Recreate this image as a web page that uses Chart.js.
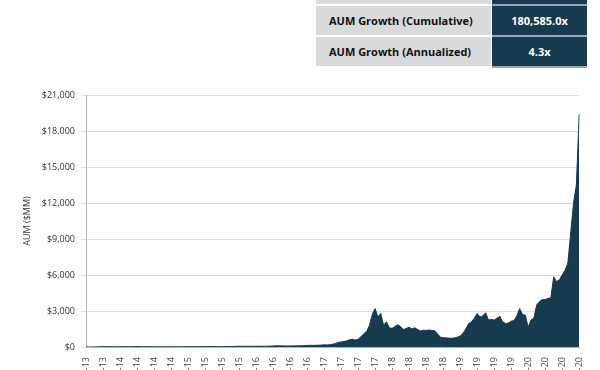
<!DOCTYPE html>
<html>
<head>
<meta charset="utf-8">
<script src="https://cdn.jsdelivr.net/npm/chart.js@4.4.1/dist/chart.umd.min.js"></script>
<style>
	body { margin: 0; background: #fff; font-family: 'Open Sans', sans-serif; }
	#wrap { position: relative; width: 600px; height: 370px; overflow: hidden; }
	#aumChart { position: absolute; left: 0; top: 0; }
	#title { position: absolute; left: 25px; top: -18px; font-size: 14px; font-weight: 700; color: #e2e2e2; white-space: nowrap; }
	#stats { position: absolute; left: 316px; top: -25px; border-collapse: collapse; font-size: 11px; font-weight: 700; }
	#stats td { height: 29px; padding: 0; border-bottom: 2px solid #fff; }
	#stats td.name { width: 162px; background: #d9dadc; color: #111; padding-left: 13px; }
	#stats td.val { width: 95px; background: #163a4e; color: #fff; text-align: center; border-bottom-color: #9aa5ad; border-left: 1px solid #fff; }
</style>
</head>
<body>
<div id="wrap">
	<div id="title">Grayscale Bitcoin Trust AUM Since Inception</div>
	<table id="stats"></table>
	<canvas id="aumChart" width="600" height="370"></canvas>
</div>
<script>
// quarter tick labels, one every 6 points
const quarterLabels = ['Sep-13', 'Dec-13', 'Mar-14', 'Jun-14', 'Sep-14', 'Dec-14', 'Mar-15', 'Jun-15', 'Sep-15', 'Dec-15',
	'Mar-16', 'Jun-16', 'Sep-16', 'Dec-16', 'Mar-17', 'Jun-17', 'Sep-17', 'Dec-17', 'Mar-18', 'Jun-18',
	'Sep-18', 'Dec-18', 'Mar-19', 'Jun-19', 'Sep-19', 'Dec-19', 'Mar-20', 'Jun-20', 'Sep-20', 'Dec-20'];

// AUM ($MM), two readings per month, Sep-13 to Dec-20
const aumValues = [
	0.1, 2, 5, 8, 12, 18, 25, 30, 28, 26, 24, 22,
	22, 24, 25, 26, 28, 30, 32, 30, 28, 27, 26, 25,
	24, 22, 20, 21, 22, 24, 23, 22, 21, 22, 24, 25,
	25, 25, 28, 30, 28, 27, 30, 32, 35, 33, 30, 28,
	28, 30, 35, 40, 45, 55, 60, 55, 58, 60, 55, 58,
	60, 62, 62, 65, 70, 75, 85, 95, 100, 95, 90, 90,
	90, 92, 95, 98, 105, 115, 130, 140, 135, 140, 150, 160,
	180, 170, 190, 230, 300, 380, 420, 450, 520, 600, 650, 580,
	650, 850, 1100, 1300, 1800, 2700, 3200, 2500, 2800, 1800, 2100, 1600,
	1550, 1700, 1850, 1700, 1450, 1550, 1650, 1500, 1600, 1450, 1330, 1400,
	1380, 1420, 1380, 1350, 1100, 820, 780, 760, 740, 720, 760, 820,
	900, 1150, 1500, 1950, 2100, 2400, 2800, 2500, 2600, 2850, 2250, 2300,
	2250, 2400, 2550, 2100, 1950, 2000, 2150, 2200, 2600, 3200, 2700, 2650,
	1650, 2250, 2400, 3500, 3800, 3950, 3950, 4050, 4100, 5850, 5450, 5600,
	6000, 6400, 7000, 9500, 12000, 13500, 19400
];

const statNames = ['AUM (Current)', 'AUM Growth (Cumulative)', 'AUM Growth (Annualized)'];
const statValues = ['$19,400', '180,585.0x', '4.3x'];

const yTicks = [0, 3000, 6000, 9000, 12000, 15000, 18000, 21000];

const buildStats = () => {
	let table = document.querySelector('#stats');
	statNames.forEach((name, i) => {
		let tr = document.createElement('tr');
		tr.innerHTML = `<td class="name">${name}</td><td class="val">${statValues[i]}</td>`;
		table.appendChild(tr);
	});
};

const pointLabels = aumValues.map((v, i) => (i % 6 === 0 ? quarterLabels[i / 6] : ''));

const LoadAumChart = () => {
	let ctx = document.getElementById('aumChart').getContext('2d');

	let myChart = new Chart(ctx, {
		type: 'line',
		data: {
			labels: pointLabels,
			datasets: [{
				label: 'AUM ($MM)',
				data: aumValues,
				fill: 'origin',
				backgroundColor: '#163a4e',
				borderColor: '#163a4e',
				borderWidth: 1,
				pointRadius: 0,
				tension: 0
			}]
		},
		options: {
			responsive: false,
			animation: false,
			layout: {
				padding: { top: 95, right: 16, left: 0, bottom: 0 }
			},
			scales: {
				x: {
					afterFit: (scale) => { scale.height = 23; },
					grid: { display: false, drawTicks: false },
					border: { display: true, color: '#b5b5b5' },
					ticks: {
						autoSkip: false,
						minRotation: 90,
						maxRotation: 90,
						padding: 10,
						color: '#444',
						font: { family: 'Open Sans', size: 9 },
						callback: function (value) {
							let l = this.getLabelForValue(value);
							return l === '' ? null : l;
						}
					}
				},
				y: {
					min: 0,
					max: 21000,
					afterFit: (scale) => { scale.width = 86; },
					afterBuildTicks: (scale) => { scale.ticks = yTicks.map((v) => ({ value: v })); },
					grid: { color: '#dcdcdc', tickLength: 5 },
					border: { display: true, color: '#b5b5b5' },
					ticks: {
						padding: 6,
						color: '#333',
						font: { family: 'Open Sans', size: 9 },
						callback: (value) => '$' + value.toLocaleString('en-US')
					},
					title: {
						display: true,
						text: 'AUM ($MM)',
						color: '#333',
						font: { family: 'Open Sans', size: 9 },
						padding: { top: 22 }
					}
				}
			},
			plugins: {
				legend: { display: false },
				tooltip: { enabled: false }
			}
		}
	});
};

buildStats();
LoadAumChart();
</script>
</body>
</html>
